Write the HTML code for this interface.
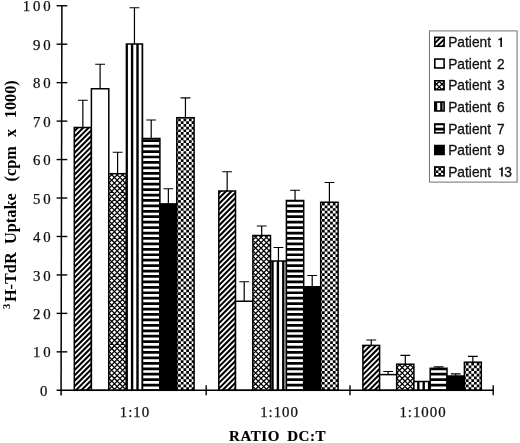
<!DOCTYPE html>
<html><head><meta charset="utf-8"><title>chart</title>
<style>
html,body{margin:0;padding:0;background:#fff;}
body{width:520px;height:443px;overflow:hidden;font-family:"Liberation Sans",sans-serif;}
svg{display:block;will-change:transform;}
.tk{font-family:"Liberation Serif",serif;font-size:13.6px;letter-spacing:2.65px;fill:#111;stroke:#111;stroke-width:0.25px;}
.ax{font-family:"Liberation Serif",serif;font-weight:bold;font-size:15px;fill:#000;}
.lg{font-family:"Liberation Sans",sans-serif;font-size:13.75px;fill:#111;stroke:#111;stroke-width:0.3px;}
</style></head><body>
<svg width="520" height="443" viewBox="0 0 520 443">
<rect width="520" height="443" fill="#fff"/>
<path d="M82.85,127.50V100.25M77.95,100.25H87.75" stroke="#000" stroke-width="1.2" fill="none"/>
<clipPath id="c1"><rect x="74.30" y="127.50" width="17.10" height="262.80"/></clipPath><g clip-path="url(#c1)"><rect x="74.30" y="127.50" width="17.10" height="262.80" fill="#fff"/><path d="M71.30,128.78L94.40,105.68M71.30,134.21L94.40,111.11M71.30,139.64L94.40,116.54M71.30,145.07L94.40,121.97M71.30,150.50L94.40,127.40M71.30,155.93L94.40,132.83M71.30,161.36L94.40,138.26M71.30,166.79L94.40,143.69M71.30,172.22L94.40,149.12M71.30,177.65L94.40,154.55M71.30,183.08L94.40,159.98M71.30,188.51L94.40,165.41M71.30,193.94L94.40,170.84M71.30,199.37L94.40,176.27M71.30,204.80L94.40,181.70M71.30,210.23L94.40,187.13M71.30,215.66L94.40,192.56M71.30,221.09L94.40,197.99M71.30,226.52L94.40,203.42M71.30,231.95L94.40,208.85M71.30,237.38L94.40,214.28M71.30,242.81L94.40,219.71M71.30,248.24L94.40,225.14M71.30,253.67L94.40,230.57M71.30,259.10L94.40,236.00M71.30,264.53L94.40,241.43M71.30,269.96L94.40,246.86M71.30,275.39L94.40,252.29M71.30,280.82L94.40,257.72M71.30,286.25L94.40,263.15M71.30,291.68L94.40,268.58M71.30,297.11L94.40,274.01M71.30,302.54L94.40,279.44M71.30,307.97L94.40,284.87M71.30,313.40L94.40,290.30M71.30,318.83L94.40,295.73M71.30,324.26L94.40,301.16M71.30,329.69L94.40,306.59M71.30,335.12L94.40,312.02M71.30,340.55L94.40,317.45M71.30,345.98L94.40,322.88M71.30,351.41L94.40,328.31M71.30,356.84L94.40,333.74M71.30,362.27L94.40,339.17M71.30,367.70L94.40,344.60M71.30,373.13L94.40,350.03M71.30,378.56L94.40,355.46M71.30,383.99L94.40,360.89M71.30,389.42L94.40,366.32M71.30,394.85L94.40,371.75M71.30,400.28L94.40,377.18M71.30,405.71L94.40,382.61M71.30,411.14L94.40,388.04" stroke="#000" stroke-width="2.05" fill="none"/></g>
<rect x="74.30" y="127.50" width="17.10" height="262.80" fill="none" stroke="#000" stroke-width="1.5"/>
<path d="M100.10,88.75V64.25M95.20,64.25H105.00" stroke="#000" stroke-width="1.2" fill="none"/>
<rect x="91.40" y="88.75" width="17.40" height="301.55" fill="#fff"/>
<rect x="91.40" y="88.75" width="17.40" height="301.55" fill="none" stroke="#000" stroke-width="1.5"/>
<path d="M117.60,173.70V152.25M112.70,152.25H122.50" stroke="#000" stroke-width="1.2" fill="none"/>
<clipPath id="c2"><rect x="108.80" y="173.70" width="17.60" height="216.60"/></clipPath><g clip-path="url(#c2)"><rect x="108.80" y="173.70" width="17.60" height="216.60" fill="#fff"/><path d="M105.80,147.16L129.40,170.76M105.80,152.59L129.40,176.19M105.80,158.02L129.40,181.62M105.80,163.45L129.40,187.06M105.80,168.88L129.40,192.49M105.80,174.31L129.40,197.91M105.80,179.75L129.40,203.34M105.80,185.18L129.40,208.78M105.80,190.61L129.40,214.21M105.80,196.04L129.40,219.64M105.80,201.47L129.40,225.07M105.80,206.90L129.40,230.50M105.80,212.33L129.40,235.93M105.80,217.76L129.40,241.36M105.80,223.19L129.40,246.79M105.80,228.62L129.40,252.22M105.80,234.05L129.40,257.65M105.80,239.48L129.40,263.08M105.80,244.91L129.40,268.51M105.80,250.34L129.40,273.94M105.80,255.77L129.40,279.37M105.80,261.20L129.40,284.80M105.80,266.63L129.40,290.23M105.80,272.06L129.40,295.66M105.80,277.49L129.40,301.09M105.80,282.92L129.40,306.52M105.80,288.35L129.40,311.95M105.80,293.78L129.40,317.38M105.80,299.21L129.40,322.81M105.80,304.64L129.40,328.24M105.80,310.07L129.40,333.67M105.80,315.50L129.40,339.10M105.80,320.93L129.40,344.53M105.80,326.36L129.40,349.96M105.80,331.79L129.40,355.39M105.80,337.22L129.40,360.82M105.80,342.65L129.40,366.25M105.80,348.08L129.40,371.68M105.80,353.51L129.40,377.11M105.80,358.94L129.40,382.54M105.80,364.37L129.40,387.97M105.80,369.80L129.40,393.40M105.80,375.23L129.40,398.83M105.80,380.66L129.40,404.26M105.80,386.09L129.40,409.69M105.80,391.52L129.40,415.12M105.80,175.25L129.40,151.66M105.80,180.69L129.40,157.09M105.80,186.12L129.40,162.52M105.80,191.55L129.40,167.95M105.80,196.98L129.40,173.38M105.80,202.41L129.40,178.81M105.80,207.84L129.40,184.24M105.80,213.27L129.40,189.67M105.80,218.70L129.40,195.10M105.80,224.13L129.40,200.53M105.80,229.56L129.40,205.96M105.80,234.99L129.40,211.39M105.80,240.42L129.40,216.82M105.80,245.85L129.40,222.25M105.80,251.28L129.40,227.68M105.80,256.71L129.40,233.11M105.80,262.14L129.40,238.54M105.80,267.57L129.40,243.97M105.80,273.00L129.40,249.40M105.80,278.43L129.40,254.83M105.80,283.86L129.40,260.26M105.80,289.29L129.40,265.69M105.80,294.72L129.40,271.12M105.80,300.15L129.40,276.55M105.80,305.58L129.40,281.98M105.80,311.01L129.40,287.41M105.80,316.44L129.40,292.84M105.80,321.87L129.40,298.27M105.80,327.30L129.40,303.70M105.80,332.73L129.40,309.13M105.80,338.16L129.40,314.56M105.80,343.59L129.40,319.99M105.80,349.02L129.40,325.42M105.80,354.45L129.40,330.85M105.80,359.88L129.40,336.28M105.80,365.31L129.40,341.71M105.80,370.74L129.40,347.14M105.80,376.17L129.40,352.57M105.80,381.60L129.40,358.00M105.80,387.03L129.40,363.43M105.80,392.46L129.40,368.86M105.80,397.89L129.40,374.29M105.80,403.32L129.40,379.72M105.80,408.75L129.40,385.15M105.80,414.18L129.40,390.58" stroke="#000" stroke-width="1.25" fill="none"/></g>
<rect x="108.80" y="173.70" width="17.60" height="216.60" fill="none" stroke="#000" stroke-width="1.5"/>
<path d="M134.45,44.00V7.75M129.55,7.75H139.35" stroke="#000" stroke-width="1.2" fill="none"/>
<clipPath id="c3"><rect x="126.40" y="44.00" width="16.10" height="346.30"/></clipPath><g clip-path="url(#c3)"><rect x="126.40" y="44.00" width="16.10" height="346.30" fill="#fff"/><path d="M126.70,41.00V393.30M132.10,41.00V393.30M137.50,41.00V393.30M142.90,41.00V393.30" stroke="#000" stroke-width="2.4" fill="none"/></g>
<rect x="126.40" y="44.00" width="16.10" height="346.30" fill="none" stroke="#000" stroke-width="1.5"/>
<path d="M151.20,138.50V120.00M146.30,120.00H156.10" stroke="#000" stroke-width="1.2" fill="none"/>
<clipPath id="c4"><rect x="142.50" y="138.50" width="17.40" height="251.80"/></clipPath><g clip-path="url(#c4)"><rect x="142.50" y="138.50" width="17.40" height="251.80" fill="#000"/><path d="M139.50,138.00H162.90M139.50,143.43H162.90M139.50,148.86H162.90M139.50,154.29H162.90M139.50,159.72H162.90M139.50,165.15H162.90M139.50,170.58H162.90M139.50,176.01H162.90M139.50,181.44H162.90M139.50,186.87H162.90M139.50,192.30H162.90M139.50,197.73H162.90M139.50,203.16H162.90M139.50,208.59H162.90M139.50,214.02H162.90M139.50,219.45H162.90M139.50,224.88H162.90M139.50,230.31H162.90M139.50,235.74H162.90M139.50,241.17H162.90M139.50,246.60H162.90M139.50,252.03H162.90M139.50,257.46H162.90M139.50,262.89H162.90M139.50,268.32H162.90M139.50,273.75H162.90M139.50,279.18H162.90M139.50,284.61H162.90M139.50,290.04H162.90M139.50,295.47H162.90M139.50,300.90H162.90M139.50,306.33H162.90M139.50,311.76H162.90M139.50,317.19H162.90M139.50,322.62H162.90M139.50,328.05H162.90M139.50,333.48H162.90M139.50,338.91H162.90M139.50,344.34H162.90M139.50,349.77H162.90M139.50,355.20H162.90M139.50,360.63H162.90M139.50,366.06H162.90M139.50,371.49H162.90M139.50,376.92H162.90M139.50,382.35H162.90M139.50,387.78H162.90M139.50,393.21H162.90" stroke="#fff" stroke-width="2.7" fill="none"/></g>
<rect x="142.50" y="138.50" width="17.40" height="251.80" fill="none" stroke="#000" stroke-width="1.5"/>
<path d="M168.35,203.90V188.75M163.45,188.75H173.25" stroke="#000" stroke-width="1.2" fill="none"/>
<rect x="159.90" y="203.90" width="16.90" height="186.40" fill="#000"/>
<rect x="159.90" y="203.90" width="16.90" height="186.40" fill="none" stroke="#000" stroke-width="1.5"/>
<path d="M185.45,117.70V97.90M180.55,97.90H190.35" stroke="#000" stroke-width="1.2" fill="none"/>
<clipPath id="c5"><rect x="176.80" y="117.70" width="17.30" height="272.60"/></clipPath><g clip-path="url(#c5)"><rect x="176.80" y="117.70" width="17.30" height="272.60" fill="#000"/><path d="M169.93,114.47h2.715M175.36,114.47h2.715M180.79,114.47h2.715M186.22,114.47h2.715M191.65,114.47h2.715M197.08,114.47h2.715M172.65,117.19h2.715M178.08,117.19h2.715M183.51,117.19h2.715M188.94,117.19h2.715M194.37,117.19h2.715M169.93,119.90h2.715M175.36,119.90h2.715M180.79,119.90h2.715M186.22,119.90h2.715M191.65,119.90h2.715M197.08,119.90h2.715M172.65,122.62h2.715M178.08,122.62h2.715M183.51,122.62h2.715M188.94,122.62h2.715M194.37,122.62h2.715M169.93,125.33h2.715M175.36,125.33h2.715M180.79,125.33h2.715M186.22,125.33h2.715M191.65,125.33h2.715M197.08,125.33h2.715M172.65,128.05h2.715M178.08,128.05h2.715M183.51,128.05h2.715M188.94,128.05h2.715M194.37,128.05h2.715M169.93,130.76h2.715M175.36,130.76h2.715M180.79,130.76h2.715M186.22,130.76h2.715M191.65,130.76h2.715M197.08,130.76h2.715M172.65,133.47h2.715M178.08,133.47h2.715M183.51,133.47h2.715M188.94,133.47h2.715M194.37,133.47h2.715M169.93,136.19h2.715M175.36,136.19h2.715M180.79,136.19h2.715M186.22,136.19h2.715M191.65,136.19h2.715M197.08,136.19h2.715M172.65,138.91h2.715M178.08,138.91h2.715M183.51,138.91h2.715M188.94,138.91h2.715M194.37,138.91h2.715M169.93,141.62h2.715M175.36,141.62h2.715M180.79,141.62h2.715M186.22,141.62h2.715M191.65,141.62h2.715M197.08,141.62h2.715M172.65,144.34h2.715M178.08,144.34h2.715M183.51,144.34h2.715M188.94,144.34h2.715M194.37,144.34h2.715M169.93,147.05h2.715M175.36,147.05h2.715M180.79,147.05h2.715M186.22,147.05h2.715M191.65,147.05h2.715M197.08,147.05h2.715M172.65,149.77h2.715M178.08,149.77h2.715M183.51,149.77h2.715M188.94,149.77h2.715M194.37,149.77h2.715M169.93,152.48h2.715M175.36,152.48h2.715M180.79,152.48h2.715M186.22,152.48h2.715M191.65,152.48h2.715M197.08,152.48h2.715M172.65,155.19h2.715M178.08,155.19h2.715M183.51,155.19h2.715M188.94,155.19h2.715M194.37,155.19h2.715M169.93,157.91h2.715M175.36,157.91h2.715M180.79,157.91h2.715M186.22,157.91h2.715M191.65,157.91h2.715M197.08,157.91h2.715M172.65,160.62h2.715M178.08,160.62h2.715M183.51,160.62h2.715M188.94,160.62h2.715M194.37,160.62h2.715M169.93,163.34h2.715M175.36,163.34h2.715M180.79,163.34h2.715M186.22,163.34h2.715M191.65,163.34h2.715M197.08,163.34h2.715M172.65,166.06h2.715M178.08,166.06h2.715M183.51,166.06h2.715M188.94,166.06h2.715M194.37,166.06h2.715M169.93,168.77h2.715M175.36,168.77h2.715M180.79,168.77h2.715M186.22,168.77h2.715M191.65,168.77h2.715M197.08,168.77h2.715M172.65,171.49h2.715M178.08,171.49h2.715M183.51,171.49h2.715M188.94,171.49h2.715M194.37,171.49h2.715M169.93,174.20h2.715M175.36,174.20h2.715M180.79,174.20h2.715M186.22,174.20h2.715M191.65,174.20h2.715M197.08,174.20h2.715M172.65,176.92h2.715M178.08,176.92h2.715M183.51,176.92h2.715M188.94,176.92h2.715M194.37,176.92h2.715M169.93,179.63h2.715M175.36,179.63h2.715M180.79,179.63h2.715M186.22,179.63h2.715M191.65,179.63h2.715M197.08,179.63h2.715M172.65,182.34h2.715M178.08,182.34h2.715M183.51,182.34h2.715M188.94,182.34h2.715M194.37,182.34h2.715M169.93,185.06h2.715M175.36,185.06h2.715M180.79,185.06h2.715M186.22,185.06h2.715M191.65,185.06h2.715M197.08,185.06h2.715M172.65,187.78h2.715M178.08,187.78h2.715M183.51,187.78h2.715M188.94,187.78h2.715M194.37,187.78h2.715M169.93,190.49h2.715M175.36,190.49h2.715M180.79,190.49h2.715M186.22,190.49h2.715M191.65,190.49h2.715M197.08,190.49h2.715M172.65,193.20h2.715M178.08,193.20h2.715M183.51,193.20h2.715M188.94,193.20h2.715M194.37,193.20h2.715M169.93,195.92h2.715M175.36,195.92h2.715M180.79,195.92h2.715M186.22,195.92h2.715M191.65,195.92h2.715M197.08,195.92h2.715M172.65,198.63h2.715M178.08,198.63h2.715M183.51,198.63h2.715M188.94,198.63h2.715M194.37,198.63h2.715M169.93,201.35h2.715M175.36,201.35h2.715M180.79,201.35h2.715M186.22,201.35h2.715M191.65,201.35h2.715M197.08,201.35h2.715M172.65,204.06h2.715M178.08,204.06h2.715M183.51,204.06h2.715M188.94,204.06h2.715M194.37,204.06h2.715M169.93,206.78h2.715M175.36,206.78h2.715M180.79,206.78h2.715M186.22,206.78h2.715M191.65,206.78h2.715M197.08,206.78h2.715M172.65,209.50h2.715M178.08,209.50h2.715M183.51,209.50h2.715M188.94,209.50h2.715M194.37,209.50h2.715M169.93,212.21h2.715M175.36,212.21h2.715M180.79,212.21h2.715M186.22,212.21h2.715M191.65,212.21h2.715M197.08,212.21h2.715M172.65,214.93h2.715M178.08,214.93h2.715M183.51,214.93h2.715M188.94,214.93h2.715M194.37,214.93h2.715M169.93,217.64h2.715M175.36,217.64h2.715M180.79,217.64h2.715M186.22,217.64h2.715M191.65,217.64h2.715M197.08,217.64h2.715M172.65,220.36h2.715M178.08,220.36h2.715M183.51,220.36h2.715M188.94,220.36h2.715M194.37,220.36h2.715M169.93,223.07h2.715M175.36,223.07h2.715M180.79,223.07h2.715M186.22,223.07h2.715M191.65,223.07h2.715M197.08,223.07h2.715M172.65,225.78h2.715M178.08,225.78h2.715M183.51,225.78h2.715M188.94,225.78h2.715M194.37,225.78h2.715M169.93,228.50h2.715M175.36,228.50h2.715M180.79,228.50h2.715M186.22,228.50h2.715M191.65,228.50h2.715M197.08,228.50h2.715M172.65,231.22h2.715M178.08,231.22h2.715M183.51,231.22h2.715M188.94,231.22h2.715M194.37,231.22h2.715M169.93,233.93h2.715M175.36,233.93h2.715M180.79,233.93h2.715M186.22,233.93h2.715M191.65,233.93h2.715M197.08,233.93h2.715M172.65,236.64h2.715M178.08,236.64h2.715M183.51,236.64h2.715M188.94,236.64h2.715M194.37,236.64h2.715M169.93,239.36h2.715M175.36,239.36h2.715M180.79,239.36h2.715M186.22,239.36h2.715M191.65,239.36h2.715M197.08,239.36h2.715M172.65,242.07h2.715M178.08,242.07h2.715M183.51,242.07h2.715M188.94,242.07h2.715M194.37,242.07h2.715M169.93,244.79h2.715M175.36,244.79h2.715M180.79,244.79h2.715M186.22,244.79h2.715M191.65,244.79h2.715M197.08,244.79h2.715M172.65,247.50h2.715M178.08,247.50h2.715M183.51,247.50h2.715M188.94,247.50h2.715M194.37,247.50h2.715M169.93,250.22h2.715M175.36,250.22h2.715M180.79,250.22h2.715M186.22,250.22h2.715M191.65,250.22h2.715M197.08,250.22h2.715M172.65,252.94h2.715M178.08,252.94h2.715M183.51,252.94h2.715M188.94,252.94h2.715M194.37,252.94h2.715M169.93,255.65h2.715M175.36,255.65h2.715M180.79,255.65h2.715M186.22,255.65h2.715M191.65,255.65h2.715M197.08,255.65h2.715M172.65,258.37h2.715M178.08,258.37h2.715M183.51,258.37h2.715M188.94,258.37h2.715M194.37,258.37h2.715M169.93,261.08h2.715M175.36,261.08h2.715M180.79,261.08h2.715M186.22,261.08h2.715M191.65,261.08h2.715M197.08,261.08h2.715M172.65,263.79h2.715M178.08,263.79h2.715M183.51,263.79h2.715M188.94,263.79h2.715M194.37,263.79h2.715M169.93,266.51h2.715M175.36,266.51h2.715M180.79,266.51h2.715M186.22,266.51h2.715M191.65,266.51h2.715M197.08,266.51h2.715M172.65,269.23h2.715M178.08,269.23h2.715M183.51,269.23h2.715M188.94,269.23h2.715M194.37,269.23h2.715M169.93,271.94h2.715M175.36,271.94h2.715M180.79,271.94h2.715M186.22,271.94h2.715M191.65,271.94h2.715M197.08,271.94h2.715M172.65,274.65h2.715M178.08,274.65h2.715M183.51,274.65h2.715M188.94,274.65h2.715M194.37,274.65h2.715M169.93,277.37h2.715M175.36,277.37h2.715M180.79,277.37h2.715M186.22,277.37h2.715M191.65,277.37h2.715M197.08,277.37h2.715M172.65,280.09h2.715M178.08,280.09h2.715M183.51,280.09h2.715M188.94,280.09h2.715M194.37,280.09h2.715M169.93,282.80h2.715M175.36,282.80h2.715M180.79,282.80h2.715M186.22,282.80h2.715M191.65,282.80h2.715M197.08,282.80h2.715M172.65,285.51h2.715M178.08,285.51h2.715M183.51,285.51h2.715M188.94,285.51h2.715M194.37,285.51h2.715M169.93,288.23h2.715M175.36,288.23h2.715M180.79,288.23h2.715M186.22,288.23h2.715M191.65,288.23h2.715M197.08,288.23h2.715M172.65,290.94h2.715M178.08,290.94h2.715M183.51,290.94h2.715M188.94,290.94h2.715M194.37,290.94h2.715M169.93,293.66h2.715M175.36,293.66h2.715M180.79,293.66h2.715M186.22,293.66h2.715M191.65,293.66h2.715M197.08,293.66h2.715M172.65,296.38h2.715M178.08,296.38h2.715M183.51,296.38h2.715M188.94,296.38h2.715M194.37,296.38h2.715M169.93,299.09h2.715M175.36,299.09h2.715M180.79,299.09h2.715M186.22,299.09h2.715M191.65,299.09h2.715M197.08,299.09h2.715M172.65,301.81h2.715M178.08,301.81h2.715M183.51,301.81h2.715M188.94,301.81h2.715M194.37,301.81h2.715M169.93,304.52h2.715M175.36,304.52h2.715M180.79,304.52h2.715M186.22,304.52h2.715M191.65,304.52h2.715M197.08,304.52h2.715M172.65,307.24h2.715M178.08,307.24h2.715M183.51,307.24h2.715M188.94,307.24h2.715M194.37,307.24h2.715M169.93,309.95h2.715M175.36,309.95h2.715M180.79,309.95h2.715M186.22,309.95h2.715M191.65,309.95h2.715M197.08,309.95h2.715M172.65,312.66h2.715M178.08,312.66h2.715M183.51,312.66h2.715M188.94,312.66h2.715M194.37,312.66h2.715M169.93,315.38h2.715M175.36,315.38h2.715M180.79,315.38h2.715M186.22,315.38h2.715M191.65,315.38h2.715M197.08,315.38h2.715M172.65,318.10h2.715M178.08,318.10h2.715M183.51,318.10h2.715M188.94,318.10h2.715M194.37,318.10h2.715M169.93,320.81h2.715M175.36,320.81h2.715M180.79,320.81h2.715M186.22,320.81h2.715M191.65,320.81h2.715M197.08,320.81h2.715M172.65,323.52h2.715M178.08,323.52h2.715M183.51,323.52h2.715M188.94,323.52h2.715M194.37,323.52h2.715M169.93,326.24h2.715M175.36,326.24h2.715M180.79,326.24h2.715M186.22,326.24h2.715M191.65,326.24h2.715M197.08,326.24h2.715M172.65,328.95h2.715M178.08,328.95h2.715M183.51,328.95h2.715M188.94,328.95h2.715M194.37,328.95h2.715M169.93,331.67h2.715M175.36,331.67h2.715M180.79,331.67h2.715M186.22,331.67h2.715M191.65,331.67h2.715M197.08,331.67h2.715M172.65,334.38h2.715M178.08,334.38h2.715M183.51,334.38h2.715M188.94,334.38h2.715M194.37,334.38h2.715M169.93,337.10h2.715M175.36,337.10h2.715M180.79,337.10h2.715M186.22,337.10h2.715M191.65,337.10h2.715M197.08,337.10h2.715M172.65,339.81h2.715M178.08,339.81h2.715M183.51,339.81h2.715M188.94,339.81h2.715M194.37,339.81h2.715M169.93,342.53h2.715M175.36,342.53h2.715M180.79,342.53h2.715M186.22,342.53h2.715M191.65,342.53h2.715M197.08,342.53h2.715M172.65,345.25h2.715M178.08,345.25h2.715M183.51,345.25h2.715M188.94,345.25h2.715M194.37,345.25h2.715M169.93,347.96h2.715M175.36,347.96h2.715M180.79,347.96h2.715M186.22,347.96h2.715M191.65,347.96h2.715M197.08,347.96h2.715M172.65,350.67h2.715M178.08,350.67h2.715M183.51,350.67h2.715M188.94,350.67h2.715M194.37,350.67h2.715M169.93,353.39h2.715M175.36,353.39h2.715M180.79,353.39h2.715M186.22,353.39h2.715M191.65,353.39h2.715M197.08,353.39h2.715M172.65,356.11h2.715M178.08,356.11h2.715M183.51,356.11h2.715M188.94,356.11h2.715M194.37,356.11h2.715M169.93,358.82h2.715M175.36,358.82h2.715M180.79,358.82h2.715M186.22,358.82h2.715M191.65,358.82h2.715M197.08,358.82h2.715M172.65,361.53h2.715M178.08,361.53h2.715M183.51,361.53h2.715M188.94,361.53h2.715M194.37,361.53h2.715M169.93,364.25h2.715M175.36,364.25h2.715M180.79,364.25h2.715M186.22,364.25h2.715M191.65,364.25h2.715M197.08,364.25h2.715M172.65,366.97h2.715M178.08,366.97h2.715M183.51,366.97h2.715M188.94,366.97h2.715M194.37,366.97h2.715M169.93,369.68h2.715M175.36,369.68h2.715M180.79,369.68h2.715M186.22,369.68h2.715M191.65,369.68h2.715M197.08,369.68h2.715M172.65,372.39h2.715M178.08,372.39h2.715M183.51,372.39h2.715M188.94,372.39h2.715M194.37,372.39h2.715M169.93,375.11h2.715M175.36,375.11h2.715M180.79,375.11h2.715M186.22,375.11h2.715M191.65,375.11h2.715M197.08,375.11h2.715M172.65,377.83h2.715M178.08,377.83h2.715M183.51,377.83h2.715M188.94,377.83h2.715M194.37,377.83h2.715M169.93,380.54h2.715M175.36,380.54h2.715M180.79,380.54h2.715M186.22,380.54h2.715M191.65,380.54h2.715M197.08,380.54h2.715M172.65,383.25h2.715M178.08,383.25h2.715M183.51,383.25h2.715M188.94,383.25h2.715M194.37,383.25h2.715M169.93,385.97h2.715M175.36,385.97h2.715M180.79,385.97h2.715M186.22,385.97h2.715M191.65,385.97h2.715M197.08,385.97h2.715M172.65,388.68h2.715M178.08,388.68h2.715M183.51,388.68h2.715M188.94,388.68h2.715M194.37,388.68h2.715M169.93,391.40h2.715M175.36,391.40h2.715M180.79,391.40h2.715M186.22,391.40h2.715M191.65,391.40h2.715M197.08,391.40h2.715M172.65,394.12h2.715M178.08,394.12h2.715M183.51,394.12h2.715M188.94,394.12h2.715M194.37,394.12h2.715" stroke="#fff" stroke-width="2.715" fill="none"/></g>
<rect x="176.80" y="117.70" width="17.30" height="272.60" fill="none" stroke="#000" stroke-width="1.5"/>
<path d="M227.15,191.00V171.75M222.25,171.75H232.05" stroke="#000" stroke-width="1.2" fill="none"/>
<clipPath id="c6"><rect x="218.80" y="191.00" width="16.70" height="199.30"/></clipPath><g clip-path="url(#c6)"><rect x="218.80" y="191.00" width="16.70" height="199.30" fill="#fff"/><path d="M215.80,190.62L238.50,167.92M215.80,196.05L238.50,173.35M215.80,201.48L238.50,178.78M215.80,206.91L238.50,184.21M215.80,212.34L238.50,189.64M215.80,217.77L238.50,195.07M215.80,223.20L238.50,200.50M215.80,228.63L238.50,205.93M215.80,234.06L238.50,211.36M215.80,239.49L238.50,216.79M215.80,244.92L238.50,222.22M215.80,250.35L238.50,227.65M215.80,255.78L238.50,233.08M215.80,261.21L238.50,238.51M215.80,266.64L238.50,243.94M215.80,272.07L238.50,249.37M215.80,277.50L238.50,254.80M215.80,282.93L238.50,260.23M215.80,288.36L238.50,265.66M215.80,293.79L238.50,271.09M215.80,299.22L238.50,276.52M215.80,304.65L238.50,281.95M215.80,310.08L238.50,287.38M215.80,315.51L238.50,292.81M215.80,320.94L238.50,298.24M215.80,326.37L238.50,303.67M215.80,331.80L238.50,309.10M215.80,337.23L238.50,314.53M215.80,342.66L238.50,319.96M215.80,348.09L238.50,325.39M215.80,353.52L238.50,330.82M215.80,358.95L238.50,336.25M215.80,364.38L238.50,341.68M215.80,369.81L238.50,347.11M215.80,375.24L238.50,352.54M215.80,380.67L238.50,357.97M215.80,386.10L238.50,363.40M215.80,391.53L238.50,368.83M215.80,396.96L238.50,374.26M215.80,402.39L238.50,379.69M215.80,407.82L238.50,385.12M215.80,413.25L238.50,390.55" stroke="#000" stroke-width="2.05" fill="none"/></g>
<rect x="218.80" y="191.00" width="16.70" height="199.30" fill="none" stroke="#000" stroke-width="1.5"/>
<path d="M244.20,301.25V281.75M239.30,281.75H249.10" stroke="#000" stroke-width="1.2" fill="none"/>
<rect x="235.50" y="301.25" width="17.40" height="89.05" fill="#fff"/>
<rect x="235.50" y="301.25" width="17.40" height="89.05" fill="none" stroke="#000" stroke-width="1.5"/>
<path d="M261.70,235.50V226.00M256.80,226.00H266.60" stroke="#000" stroke-width="1.2" fill="none"/>
<clipPath id="c7"><rect x="252.90" y="235.50" width="17.60" height="154.80"/></clipPath><g clip-path="url(#c7)"><rect x="252.90" y="235.50" width="17.60" height="154.80" fill="#fff"/><path d="M249.90,209.81L273.50,233.41M249.90,215.25L273.50,238.84M249.90,220.68L273.50,244.28M249.90,226.11L273.50,249.70M249.90,231.53L273.50,255.13M249.90,236.97L273.50,260.56M249.90,242.40L273.50,266.00M249.90,247.82L273.50,271.43M249.90,253.25L273.50,276.86M249.90,258.69L273.50,282.28M249.90,264.12L273.50,287.71M249.90,269.55L273.50,293.14M249.90,274.98L273.50,298.57M249.90,280.40L273.50,304.00M249.90,285.83L273.50,309.44M249.90,291.26L273.50,314.87M249.90,296.69L273.50,320.30M249.90,302.12L273.50,325.73M249.90,307.56L273.50,331.15M249.90,312.99L273.50,336.58M249.90,318.41L273.50,342.01M249.90,323.85L273.50,347.44M249.90,329.27L273.50,352.88M249.90,334.71L273.50,358.31M249.90,340.13L273.50,363.74M249.90,345.57L273.50,369.17M249.90,351.00L273.50,374.60M249.90,356.43L273.50,380.03M249.90,361.86L273.50,385.46M249.90,367.29L273.50,390.89M249.90,372.72L273.50,396.32M249.90,378.15L273.50,401.75M249.90,383.58L273.50,407.18M249.90,389.01L273.50,412.61M249.90,237.49L273.50,213.89M249.90,242.92L273.50,219.32M249.90,248.35L273.50,224.75M249.90,253.78L273.50,230.19M249.90,259.22L273.50,235.62M249.90,264.64L273.50,241.04M249.90,270.07L273.50,246.47M249.90,275.50L273.50,251.90M249.90,280.93L273.50,257.33M249.90,286.36L273.50,262.76M249.90,291.79L273.50,268.19M249.90,297.22L273.50,273.62M249.90,302.65L273.50,279.05M249.90,308.08L273.50,284.48M249.90,313.51L273.50,289.91M249.90,318.94L273.50,295.34M249.90,324.37L273.50,300.77M249.90,329.80L273.50,306.20M249.90,335.23L273.50,311.63M249.90,340.66L273.50,317.06M249.90,346.09L273.50,322.49M249.90,351.52L273.50,327.92M249.90,356.95L273.50,333.35M249.90,362.38L273.50,338.78M249.90,367.81L273.50,344.21M249.90,373.24L273.50,349.64M249.90,378.67L273.50,355.07M249.90,384.10L273.50,360.50M249.90,389.53L273.50,365.93M249.90,394.96L273.50,371.36M249.90,400.39L273.50,376.79M249.90,405.82L273.50,382.22M249.90,411.25L273.50,387.65M249.90,416.68L273.50,393.08" stroke="#000" stroke-width="1.25" fill="none"/></g>
<rect x="252.90" y="235.50" width="17.60" height="154.80" fill="none" stroke="#000" stroke-width="1.5"/>
<path d="M278.45,261.00V247.50M273.55,247.50H283.35" stroke="#000" stroke-width="1.2" fill="none"/>
<clipPath id="c8"><rect x="270.50" y="261.00" width="15.90" height="129.30"/></clipPath><g clip-path="url(#c8)"><rect x="270.50" y="261.00" width="15.90" height="129.30" fill="#fff"/><path d="M272.50,258.00V393.30M277.90,258.00V393.30M283.30,258.00V393.30M288.70,258.00V393.30" stroke="#000" stroke-width="2.4" fill="none"/></g>
<rect x="270.50" y="261.00" width="15.90" height="129.30" fill="none" stroke="#000" stroke-width="1.5"/>
<path d="M295.05,200.50V190.25M290.15,190.25H299.95" stroke="#000" stroke-width="1.2" fill="none"/>
<clipPath id="c9"><rect x="286.40" y="200.50" width="17.30" height="189.80"/></clipPath><g clip-path="url(#c9)"><rect x="286.40" y="200.50" width="17.30" height="189.80" fill="#000"/><path d="M283.40,197.73H306.70M283.40,203.16H306.70M283.40,208.59H306.70M283.40,214.02H306.70M283.40,219.45H306.70M283.40,224.88H306.70M283.40,230.31H306.70M283.40,235.74H306.70M283.40,241.17H306.70M283.40,246.60H306.70M283.40,252.03H306.70M283.40,257.46H306.70M283.40,262.89H306.70M283.40,268.32H306.70M283.40,273.75H306.70M283.40,279.18H306.70M283.40,284.61H306.70M283.40,290.04H306.70M283.40,295.47H306.70M283.40,300.90H306.70M283.40,306.33H306.70M283.40,311.76H306.70M283.40,317.19H306.70M283.40,322.62H306.70M283.40,328.05H306.70M283.40,333.48H306.70M283.40,338.91H306.70M283.40,344.34H306.70M283.40,349.77H306.70M283.40,355.20H306.70M283.40,360.63H306.70M283.40,366.06H306.70M283.40,371.49H306.70M283.40,376.92H306.70M283.40,382.35H306.70M283.40,387.78H306.70M283.40,393.21H306.70" stroke="#fff" stroke-width="2.7" fill="none"/></g>
<rect x="286.40" y="200.50" width="17.30" height="189.80" fill="none" stroke="#000" stroke-width="1.5"/>
<path d="M312.20,286.75V275.50M307.30,275.50H317.10" stroke="#000" stroke-width="1.2" fill="none"/>
<rect x="303.70" y="286.75" width="17.00" height="103.55" fill="#000"/>
<rect x="303.70" y="286.75" width="17.00" height="103.55" fill="none" stroke="#000" stroke-width="1.5"/>
<path d="M329.40,202.25V182.50M324.50,182.50H334.30" stroke="#000" stroke-width="1.2" fill="none"/>
<clipPath id="c10"><rect x="320.70" y="202.25" width="17.40" height="188.05"/></clipPath><g clip-path="url(#c10)"><rect x="320.70" y="202.25" width="17.40" height="188.05" fill="#000"/><path d="M313.83,198.63h2.715M319.26,198.63h2.715M324.69,198.63h2.715M330.12,198.63h2.715M335.55,198.63h2.715M340.98,198.63h2.715M316.54,201.35h2.715M321.97,201.35h2.715M327.40,201.35h2.715M332.83,201.35h2.715M338.26,201.35h2.715M313.83,204.06h2.715M319.26,204.06h2.715M324.69,204.06h2.715M330.12,204.06h2.715M335.55,204.06h2.715M340.98,204.06h2.715M316.54,206.78h2.715M321.97,206.78h2.715M327.40,206.78h2.715M332.83,206.78h2.715M338.26,206.78h2.715M313.83,209.50h2.715M319.26,209.50h2.715M324.69,209.50h2.715M330.12,209.50h2.715M335.55,209.50h2.715M340.98,209.50h2.715M316.54,212.21h2.715M321.97,212.21h2.715M327.40,212.21h2.715M332.83,212.21h2.715M338.26,212.21h2.715M313.83,214.93h2.715M319.26,214.93h2.715M324.69,214.93h2.715M330.12,214.93h2.715M335.55,214.93h2.715M340.98,214.93h2.715M316.54,217.64h2.715M321.97,217.64h2.715M327.40,217.64h2.715M332.83,217.64h2.715M338.26,217.64h2.715M313.83,220.36h2.715M319.26,220.36h2.715M324.69,220.36h2.715M330.12,220.36h2.715M335.55,220.36h2.715M340.98,220.36h2.715M316.54,223.07h2.715M321.97,223.07h2.715M327.40,223.07h2.715M332.83,223.07h2.715M338.26,223.07h2.715M313.83,225.78h2.715M319.26,225.78h2.715M324.69,225.78h2.715M330.12,225.78h2.715M335.55,225.78h2.715M340.98,225.78h2.715M316.54,228.50h2.715M321.97,228.50h2.715M327.40,228.50h2.715M332.83,228.50h2.715M338.26,228.50h2.715M313.83,231.22h2.715M319.26,231.22h2.715M324.69,231.22h2.715M330.12,231.22h2.715M335.55,231.22h2.715M340.98,231.22h2.715M316.54,233.93h2.715M321.97,233.93h2.715M327.40,233.93h2.715M332.83,233.93h2.715M338.26,233.93h2.715M313.83,236.64h2.715M319.26,236.64h2.715M324.69,236.64h2.715M330.12,236.64h2.715M335.55,236.64h2.715M340.98,236.64h2.715M316.54,239.36h2.715M321.97,239.36h2.715M327.40,239.36h2.715M332.83,239.36h2.715M338.26,239.36h2.715M313.83,242.07h2.715M319.26,242.07h2.715M324.69,242.07h2.715M330.12,242.07h2.715M335.55,242.07h2.715M340.98,242.07h2.715M316.54,244.79h2.715M321.97,244.79h2.715M327.40,244.79h2.715M332.83,244.79h2.715M338.26,244.79h2.715M313.83,247.50h2.715M319.26,247.50h2.715M324.69,247.50h2.715M330.12,247.50h2.715M335.55,247.50h2.715M340.98,247.50h2.715M316.54,250.22h2.715M321.97,250.22h2.715M327.40,250.22h2.715M332.83,250.22h2.715M338.26,250.22h2.715M313.83,252.94h2.715M319.26,252.94h2.715M324.69,252.94h2.715M330.12,252.94h2.715M335.55,252.94h2.715M340.98,252.94h2.715M316.54,255.65h2.715M321.97,255.65h2.715M327.40,255.65h2.715M332.83,255.65h2.715M338.26,255.65h2.715M313.83,258.37h2.715M319.26,258.37h2.715M324.69,258.37h2.715M330.12,258.37h2.715M335.55,258.37h2.715M340.98,258.37h2.715M316.54,261.08h2.715M321.97,261.08h2.715M327.40,261.08h2.715M332.83,261.08h2.715M338.26,261.08h2.715M313.83,263.79h2.715M319.26,263.79h2.715M324.69,263.79h2.715M330.12,263.79h2.715M335.55,263.79h2.715M340.98,263.79h2.715M316.54,266.51h2.715M321.97,266.51h2.715M327.40,266.51h2.715M332.83,266.51h2.715M338.26,266.51h2.715M313.83,269.23h2.715M319.26,269.23h2.715M324.69,269.23h2.715M330.12,269.23h2.715M335.55,269.23h2.715M340.98,269.23h2.715M316.54,271.94h2.715M321.97,271.94h2.715M327.40,271.94h2.715M332.83,271.94h2.715M338.26,271.94h2.715M313.83,274.65h2.715M319.26,274.65h2.715M324.69,274.65h2.715M330.12,274.65h2.715M335.55,274.65h2.715M340.98,274.65h2.715M316.54,277.37h2.715M321.97,277.37h2.715M327.40,277.37h2.715M332.83,277.37h2.715M338.26,277.37h2.715M313.83,280.09h2.715M319.26,280.09h2.715M324.69,280.09h2.715M330.12,280.09h2.715M335.55,280.09h2.715M340.98,280.09h2.715M316.54,282.80h2.715M321.97,282.80h2.715M327.40,282.80h2.715M332.83,282.80h2.715M338.26,282.80h2.715M313.83,285.51h2.715M319.26,285.51h2.715M324.69,285.51h2.715M330.12,285.51h2.715M335.55,285.51h2.715M340.98,285.51h2.715M316.54,288.23h2.715M321.97,288.23h2.715M327.40,288.23h2.715M332.83,288.23h2.715M338.26,288.23h2.715M313.83,290.94h2.715M319.26,290.94h2.715M324.69,290.94h2.715M330.12,290.94h2.715M335.55,290.94h2.715M340.98,290.94h2.715M316.54,293.66h2.715M321.97,293.66h2.715M327.40,293.66h2.715M332.83,293.66h2.715M338.26,293.66h2.715M313.83,296.38h2.715M319.26,296.38h2.715M324.69,296.38h2.715M330.12,296.38h2.715M335.55,296.38h2.715M340.98,296.38h2.715M316.54,299.09h2.715M321.97,299.09h2.715M327.40,299.09h2.715M332.83,299.09h2.715M338.26,299.09h2.715M313.83,301.81h2.715M319.26,301.81h2.715M324.69,301.81h2.715M330.12,301.81h2.715M335.55,301.81h2.715M340.98,301.81h2.715M316.54,304.52h2.715M321.97,304.52h2.715M327.40,304.52h2.715M332.83,304.52h2.715M338.26,304.52h2.715M313.83,307.24h2.715M319.26,307.24h2.715M324.69,307.24h2.715M330.12,307.24h2.715M335.55,307.24h2.715M340.98,307.24h2.715M316.54,309.95h2.715M321.97,309.95h2.715M327.40,309.95h2.715M332.83,309.95h2.715M338.26,309.95h2.715M313.83,312.66h2.715M319.26,312.66h2.715M324.69,312.66h2.715M330.12,312.66h2.715M335.55,312.66h2.715M340.98,312.66h2.715M316.54,315.38h2.715M321.97,315.38h2.715M327.40,315.38h2.715M332.83,315.38h2.715M338.26,315.38h2.715M313.83,318.10h2.715M319.26,318.10h2.715M324.69,318.10h2.715M330.12,318.10h2.715M335.55,318.10h2.715M340.98,318.10h2.715M316.54,320.81h2.715M321.97,320.81h2.715M327.40,320.81h2.715M332.83,320.81h2.715M338.26,320.81h2.715M313.83,323.52h2.715M319.26,323.52h2.715M324.69,323.52h2.715M330.12,323.52h2.715M335.55,323.52h2.715M340.98,323.52h2.715M316.54,326.24h2.715M321.97,326.24h2.715M327.40,326.24h2.715M332.83,326.24h2.715M338.26,326.24h2.715M313.83,328.95h2.715M319.26,328.95h2.715M324.69,328.95h2.715M330.12,328.95h2.715M335.55,328.95h2.715M340.98,328.95h2.715M316.54,331.67h2.715M321.97,331.67h2.715M327.40,331.67h2.715M332.83,331.67h2.715M338.26,331.67h2.715M313.83,334.38h2.715M319.26,334.38h2.715M324.69,334.38h2.715M330.12,334.38h2.715M335.55,334.38h2.715M340.98,334.38h2.715M316.54,337.10h2.715M321.97,337.10h2.715M327.40,337.10h2.715M332.83,337.10h2.715M338.26,337.10h2.715M313.83,339.81h2.715M319.26,339.81h2.715M324.69,339.81h2.715M330.12,339.81h2.715M335.55,339.81h2.715M340.98,339.81h2.715M316.54,342.53h2.715M321.97,342.53h2.715M327.40,342.53h2.715M332.83,342.53h2.715M338.26,342.53h2.715M313.83,345.25h2.715M319.26,345.25h2.715M324.69,345.25h2.715M330.12,345.25h2.715M335.55,345.25h2.715M340.98,345.25h2.715M316.54,347.96h2.715M321.97,347.96h2.715M327.40,347.96h2.715M332.83,347.96h2.715M338.26,347.96h2.715M313.83,350.67h2.715M319.26,350.67h2.715M324.69,350.67h2.715M330.12,350.67h2.715M335.55,350.67h2.715M340.98,350.67h2.715M316.54,353.39h2.715M321.97,353.39h2.715M327.40,353.39h2.715M332.83,353.39h2.715M338.26,353.39h2.715M313.83,356.11h2.715M319.26,356.11h2.715M324.69,356.11h2.715M330.12,356.11h2.715M335.55,356.11h2.715M340.98,356.11h2.715M316.54,358.82h2.715M321.97,358.82h2.715M327.40,358.82h2.715M332.83,358.82h2.715M338.26,358.82h2.715M313.83,361.53h2.715M319.26,361.53h2.715M324.69,361.53h2.715M330.12,361.53h2.715M335.55,361.53h2.715M340.98,361.53h2.715M316.54,364.25h2.715M321.97,364.25h2.715M327.40,364.25h2.715M332.83,364.25h2.715M338.26,364.25h2.715M313.83,366.97h2.715M319.26,366.97h2.715M324.69,366.97h2.715M330.12,366.97h2.715M335.55,366.97h2.715M340.98,366.97h2.715M316.54,369.68h2.715M321.97,369.68h2.715M327.40,369.68h2.715M332.83,369.68h2.715M338.26,369.68h2.715M313.83,372.39h2.715M319.26,372.39h2.715M324.69,372.39h2.715M330.12,372.39h2.715M335.55,372.39h2.715M340.98,372.39h2.715M316.54,375.11h2.715M321.97,375.11h2.715M327.40,375.11h2.715M332.83,375.11h2.715M338.26,375.11h2.715M313.83,377.83h2.715M319.26,377.83h2.715M324.69,377.83h2.715M330.12,377.83h2.715M335.55,377.83h2.715M340.98,377.83h2.715M316.54,380.54h2.715M321.97,380.54h2.715M327.40,380.54h2.715M332.83,380.54h2.715M338.26,380.54h2.715M313.83,383.25h2.715M319.26,383.25h2.715M324.69,383.25h2.715M330.12,383.25h2.715M335.55,383.25h2.715M340.98,383.25h2.715M316.54,385.97h2.715M321.97,385.97h2.715M327.40,385.97h2.715M332.83,385.97h2.715M338.26,385.97h2.715M313.83,388.68h2.715M319.26,388.68h2.715M324.69,388.68h2.715M330.12,388.68h2.715M335.55,388.68h2.715M340.98,388.68h2.715M316.54,391.40h2.715M321.97,391.40h2.715M327.40,391.40h2.715M332.83,391.40h2.715M338.26,391.40h2.715M313.83,394.12h2.715M319.26,394.12h2.715M324.69,394.12h2.715M330.12,394.12h2.715M335.55,394.12h2.715M340.98,394.12h2.715" stroke="#fff" stroke-width="2.715" fill="none"/></g>
<rect x="320.70" y="202.25" width="17.40" height="188.05" fill="none" stroke="#000" stroke-width="1.5"/>
<path d="M371.25,345.40V340.00M366.35,340.00H376.15" stroke="#000" stroke-width="1.2" fill="none"/>
<clipPath id="c11"><rect x="362.90" y="345.40" width="16.70" height="44.90"/></clipPath><g clip-path="url(#c11)"><rect x="362.90" y="345.40" width="16.70" height="44.90" fill="#fff"/><path d="M359.90,345.17L382.60,322.47M359.90,350.60L382.60,327.90M359.90,356.03L382.60,333.33M359.90,361.46L382.60,338.76M359.90,366.89L382.60,344.19M359.90,372.32L382.60,349.62M359.90,377.75L382.60,355.05M359.90,383.18L382.60,360.48M359.90,388.61L382.60,365.91M359.90,394.04L382.60,371.34M359.90,399.47L382.60,376.77M359.90,404.90L382.60,382.20M359.90,410.33L382.60,387.63M359.90,415.76L382.60,393.06" stroke="#000" stroke-width="2.05" fill="none"/></g>
<rect x="362.90" y="345.40" width="16.70" height="44.90" fill="none" stroke="#000" stroke-width="1.5"/>
<path d="M388.15,374.60V371.50M383.25,371.50H393.05" stroke="#000" stroke-width="1.2" fill="none"/>
<rect x="379.60" y="374.60" width="17.10" height="15.70" fill="#fff"/>
<rect x="379.60" y="374.60" width="17.10" height="15.70" fill="none" stroke="#000" stroke-width="1.5"/>
<path d="M405.30,364.20V355.40M400.40,355.40H410.20" stroke="#000" stroke-width="1.2" fill="none"/>
<clipPath id="c12"><rect x="396.70" y="364.20" width="17.20" height="26.10"/></clipPath><g clip-path="url(#c12)"><rect x="396.70" y="364.20" width="17.20" height="26.10" fill="#fff"/><path d="M393.70,342.75L416.90,365.95M393.70,348.19L416.90,371.38M393.70,353.62L416.90,376.81M393.70,359.04L416.90,382.25M393.70,364.47L416.90,387.67M393.70,369.90L416.90,393.10M393.70,375.33L416.90,398.53M393.70,380.76L416.90,403.96M393.70,386.19L416.90,409.39M393.70,391.62L416.90,414.82M393.70,365.19L416.90,342.00M393.70,370.62L416.90,347.42M393.70,376.05L416.90,352.85M393.70,381.48L416.90,358.28M393.70,386.91L416.90,363.71M393.70,392.34L416.90,369.14M393.70,397.77L416.90,374.57M393.70,403.20L416.90,380.00M393.70,408.63L416.90,385.43M393.70,414.06L416.90,390.86" stroke="#000" stroke-width="1.25" fill="none"/></g>
<rect x="396.70" y="364.20" width="17.20" height="26.10" fill="none" stroke="#000" stroke-width="1.5"/>
<clipPath id="c13"><rect x="413.90" y="381.50" width="16.30" height="8.80"/></clipPath><g clip-path="url(#c13)"><rect x="413.90" y="381.50" width="16.30" height="8.80" fill="#fff"/><path d="M412.90,378.50V393.30M418.30,378.50V393.30M423.70,378.50V393.30M429.10,378.50V393.30" stroke="#000" stroke-width="2.4" fill="none"/></g>
<rect x="413.90" y="381.50" width="16.30" height="8.80" fill="none" stroke="#000" stroke-width="1.5"/>
<path d="M438.60,368.30V366.80M433.70,366.80H443.50" stroke="#000" stroke-width="1.2" fill="none"/>
<clipPath id="c14"><rect x="430.20" y="368.30" width="16.80" height="22.00"/></clipPath><g clip-path="url(#c14)"><rect x="430.20" y="368.30" width="16.80" height="22.00" fill="#000"/><path d="M427.20,366.06H450.00M427.20,371.49H450.00M427.20,376.92H450.00M427.20,382.35H450.00M427.20,387.78H450.00M427.20,393.21H450.00" stroke="#fff" stroke-width="2.7" fill="none"/></g>
<rect x="430.20" y="368.30" width="16.80" height="22.00" fill="none" stroke="#000" stroke-width="1.5"/>
<path d="M455.70,376.00V373.80M450.80,373.80H460.60" stroke="#000" stroke-width="1.2" fill="none"/>
<rect x="447.00" y="376.00" width="17.40" height="14.30" fill="#000"/>
<rect x="447.00" y="376.00" width="17.40" height="14.30" fill="none" stroke="#000" stroke-width="1.5"/>
<path d="M472.85,362.20V356.30M467.95,356.30H477.75" stroke="#000" stroke-width="1.2" fill="none"/>
<clipPath id="c15"><rect x="464.40" y="362.20" width="16.90" height="28.10"/></clipPath><g clip-path="url(#c15)"><rect x="464.40" y="362.20" width="16.90" height="28.10" fill="#000"/><path d="M457.72,358.82h2.715M463.15,358.82h2.715M468.58,358.82h2.715M474.01,358.82h2.715M479.44,358.82h2.715M460.44,361.53h2.715M465.87,361.53h2.715M471.30,361.53h2.715M476.73,361.53h2.715M482.16,361.53h2.715M457.72,364.25h2.715M463.15,364.25h2.715M468.58,364.25h2.715M474.01,364.25h2.715M479.44,364.25h2.715M460.44,366.97h2.715M465.87,366.97h2.715M471.30,366.97h2.715M476.73,366.97h2.715M482.16,366.97h2.715M457.72,369.68h2.715M463.15,369.68h2.715M468.58,369.68h2.715M474.01,369.68h2.715M479.44,369.68h2.715M460.44,372.39h2.715M465.87,372.39h2.715M471.30,372.39h2.715M476.73,372.39h2.715M482.16,372.39h2.715M457.72,375.11h2.715M463.15,375.11h2.715M468.58,375.11h2.715M474.01,375.11h2.715M479.44,375.11h2.715M460.44,377.83h2.715M465.87,377.83h2.715M471.30,377.83h2.715M476.73,377.83h2.715M482.16,377.83h2.715M457.72,380.54h2.715M463.15,380.54h2.715M468.58,380.54h2.715M474.01,380.54h2.715M479.44,380.54h2.715M460.44,383.25h2.715M465.87,383.25h2.715M471.30,383.25h2.715M476.73,383.25h2.715M482.16,383.25h2.715M457.72,385.97h2.715M463.15,385.97h2.715M468.58,385.97h2.715M474.01,385.97h2.715M479.44,385.97h2.715M460.44,388.68h2.715M465.87,388.68h2.715M471.30,388.68h2.715M476.73,388.68h2.715M482.16,388.68h2.715M457.72,391.40h2.715M463.15,391.40h2.715M468.58,391.40h2.715M474.01,391.40h2.715M479.44,391.40h2.715M460.44,394.12h2.715M465.87,394.12h2.715M471.30,394.12h2.715M476.73,394.12h2.715M482.16,394.12h2.715" stroke="#fff" stroke-width="2.715" fill="none"/></g>
<rect x="464.40" y="362.20" width="16.90" height="28.10" fill="none" stroke="#000" stroke-width="1.5"/>
<path d="M61.9,5.2L61.05,395.5" stroke="#000" stroke-width="1.5" fill="none"/>
<path d="M56.6,390.3H494" stroke="#000" stroke-width="1.5" fill="none"/>
<text class="tk" transform="translate(50.3,395.90) scale(1.09,1)" text-anchor="end">0</text>
<path d="M56.6,351.85H67.3" stroke="#000" stroke-width="1.4" fill="none"/>
<text class="tk" transform="translate(53.6,357.45) scale(1.09,1)" text-anchor="end">10</text>
<path d="M56.6,313.39H67.3" stroke="#000" stroke-width="1.4" fill="none"/>
<text class="tk" transform="translate(53.6,318.99) scale(1.09,1)" text-anchor="end">20</text>
<path d="M56.6,274.94H67.3" stroke="#000" stroke-width="1.4" fill="none"/>
<text class="tk" transform="translate(53.6,280.54) scale(1.09,1)" text-anchor="end">30</text>
<path d="M56.6,236.48H67.3" stroke="#000" stroke-width="1.4" fill="none"/>
<text class="tk" transform="translate(53.6,242.08) scale(1.09,1)" text-anchor="end">40</text>
<path d="M56.6,198.03H67.3" stroke="#000" stroke-width="1.4" fill="none"/>
<text class="tk" transform="translate(53.6,203.63) scale(1.09,1)" text-anchor="end">50</text>
<path d="M56.6,159.57H67.3" stroke="#000" stroke-width="1.4" fill="none"/>
<text class="tk" transform="translate(53.6,165.17) scale(1.09,1)" text-anchor="end">60</text>
<path d="M56.6,121.12H67.3" stroke="#000" stroke-width="1.4" fill="none"/>
<text class="tk" transform="translate(53.6,126.72) scale(1.09,1)" text-anchor="end">70</text>
<path d="M56.6,82.66H67.3" stroke="#000" stroke-width="1.4" fill="none"/>
<text class="tk" transform="translate(53.6,88.26) scale(1.09,1)" text-anchor="end">80</text>
<path d="M56.6,44.21H67.3" stroke="#000" stroke-width="1.4" fill="none"/>
<text class="tk" transform="translate(53.6,49.81) scale(1.09,1)" text-anchor="end">90</text>
<path d="M56.6,5.75H67.3" stroke="#000" stroke-width="1.4" fill="none"/>
<text class="tk" transform="translate(53.6,11.35) scale(1.09,1)" text-anchor="end">100</text>
<path d="M206.2,385.2V395.2" stroke="#000" stroke-width="1.4" fill="none"/>
<path d="M350.0,385.2V395.2" stroke="#000" stroke-width="1.4" fill="none"/>
<path d="M493.2,385.2V395.2" stroke="#000" stroke-width="1.4" fill="none"/>
<text class="tk" style="letter-spacing:0.9px" transform="translate(135.0,416.9) scale(1.09,1)" text-anchor="middle">1:10</text>
<text class="tk" style="letter-spacing:0.9px" transform="translate(279.5,416.9) scale(1.09,1)" text-anchor="middle">1:100</text>
<text class="tk" style="letter-spacing:0.9px" transform="translate(423.0,416.9) scale(1.09,1)" text-anchor="middle">1:1000</text>
<text class="ax" x="277.6" y="441" text-anchor="middle" style="word-spacing:3px;letter-spacing:0.55px;stroke:#000;stroke-width:0.2px">RATIO DC:T</text>
<g transform="translate(16.0,0) rotate(-90)" class="ax" style="font-size:16.3px">
<text x="-309.0" y="-5.6" style="font-size:10.5px">3</text>
<text x="-302.10" y="0">H-TdR</text>
<text x="-244.00" y="0">Uptake</text>
<text x="-181.40" y="0">(cpm</text>
<text x="-137.00" y="0">x</text>
<text x="-118.20" y="0">1000)</text>
</g>
<rect x="429.5" y="30.9" width="87.6" height="151.2" fill="#fff" stroke="#7c7c7c" stroke-width="1.1"/>
<clipPath id="c16"><rect x="434.80" y="37.35" width="9.30" height="8.90"/></clipPath><g clip-path="url(#c16)"><rect x="434.80" y="37.35" width="9.30" height="8.90" fill="#fff"/><path d="M431.80,35.38L447.10,20.08M431.80,40.81L447.10,25.51M431.80,46.24L447.10,30.94M431.80,51.67L447.10,36.37M431.80,57.10L447.10,41.80M431.80,62.53L447.10,47.23" stroke="#000" stroke-width="1.85" fill="none"/></g>
<rect x="434.8" y="37.35" width="9.3" height="8.9" fill="none" stroke="#000" stroke-width="1.6"/>
<text class="lg" x="448.2" y="47.00">Patient</text>
<path d="M498.20,40.30L498.20,39.25C499.40,39.05 500.40,38.40 500.80,37.60L502.00,37.60L502.00,47.00L500.30,47.00L500.30,39.90C499.70,40.10 499.00,40.30 498.20,40.30Z" fill="#111"/>
<rect x="434.80" y="59.05" width="9.30" height="8.90" fill="#fff"/>
<rect x="434.8" y="59.05" width="9.3" height="8.9" fill="none" stroke="#000" stroke-width="1.6"/>
<text class="lg" x="448.2" y="68.70">Patient</text>
<text class="lg" x="496.9" y="68.70">2</text>
<clipPath id="c17"><rect x="434.80" y="80.80" width="9.30" height="8.90"/></clipPath><g clip-path="url(#c17)"><rect x="434.80" y="80.80" width="9.30" height="8.90" fill="#fff"/><path d="M431.80,63.18L447.10,78.48M431.80,68.61L447.10,83.91M431.80,74.04L447.10,89.34M431.80,79.47L447.10,94.77M431.80,84.90L447.10,100.20M431.80,90.33L447.10,105.63M431.80,78.08L447.10,62.78M431.80,83.51L447.10,68.21M431.80,88.94L447.10,73.63M431.80,94.36L447.10,79.06M431.80,99.79L447.10,84.49M431.80,105.22L447.10,89.92" stroke="#000" stroke-width="1.25" fill="none"/></g>
<rect x="434.8" y="80.80" width="9.3" height="8.9" fill="none" stroke="#000" stroke-width="1.6"/>
<text class="lg" x="448.2" y="90.45">Patient</text>
<text class="lg" x="496.9" y="90.45">3</text>
<clipPath id="c18"><rect x="434.80" y="102.05" width="9.30" height="8.90"/></clipPath><g clip-path="url(#c18)"><rect x="434.80" y="102.05" width="9.30" height="8.90" fill="#fff"/><path d="M436.00,99.05V113.95M441.40,99.05V113.95M446.80,99.05V113.95" stroke="#000" stroke-width="2.4" fill="none"/></g>
<rect x="434.8" y="102.05" width="9.3" height="8.9" fill="none" stroke="#000" stroke-width="1.6"/>
<text class="lg" x="448.2" y="111.70">Patient</text>
<text class="lg" x="496.9" y="111.70">6</text>
<clipPath id="c19"><rect x="434.80" y="123.95" width="9.30" height="8.90"/></clipPath><g clip-path="url(#c19)"><rect x="434.80" y="123.95" width="9.30" height="8.90" fill="#000"/><path d="M431.80,121.06H447.10M431.80,126.49H447.10M431.80,131.92H447.10" stroke="#fff" stroke-width="2.7" fill="none"/></g>
<rect x="434.8" y="123.95" width="9.3" height="8.9" fill="none" stroke="#000" stroke-width="1.6"/>
<text class="lg" x="448.2" y="133.60">Patient</text>
<text class="lg" x="496.9" y="133.60">7</text>
<rect x="434.80" y="145.55" width="9.30" height="8.90" fill="#000"/>
<rect x="434.8" y="145.55" width="9.3" height="8.9" fill="none" stroke="#000" stroke-width="1.6"/>
<text class="lg" x="448.2" y="155.20">Patient</text>
<text class="lg" x="496.9" y="155.20">9</text>
<clipPath id="c20"><rect x="434.80" y="166.95" width="9.30" height="8.90"/></clipPath><g clip-path="url(#c20)"><rect x="434.80" y="166.95" width="9.30" height="8.90" fill="#000"/><path d="M430.25,163.60h2.715M435.68,163.60h2.715M441.11,163.60h2.715M446.54,163.60h2.715M427.53,166.32h2.715M432.96,166.32h2.715M438.39,166.32h2.715M443.82,166.32h2.715M430.25,169.03h2.715M435.68,169.03h2.715M441.11,169.03h2.715M446.54,169.03h2.715M427.53,171.75h2.715M432.96,171.75h2.715M438.39,171.75h2.715M443.82,171.75h2.715M430.25,174.47h2.715M435.68,174.47h2.715M441.11,174.47h2.715M446.54,174.47h2.715M427.53,177.18h2.715M432.96,177.18h2.715M438.39,177.18h2.715M443.82,177.18h2.715M430.25,179.90h2.715M435.68,179.90h2.715M441.11,179.90h2.715M446.54,179.90h2.715" stroke="#fff" stroke-width="2.715" fill="none"/></g>
<rect x="434.8" y="166.95" width="9.3" height="8.9" fill="none" stroke="#000" stroke-width="1.6"/>
<text class="lg" x="448.2" y="176.60">Patient</text>
<path d="M499.00,169.90L499.00,168.85C500.20,168.65 501.20,168.00 501.60,167.20L502.80,167.20L502.80,176.60L501.10,176.60L501.10,169.50C500.50,169.70 499.80,169.90 499.00,169.90Z" fill="#111"/>
<text class="lg" x="504.3" y="176.60">3</text>
</svg></body></html>
